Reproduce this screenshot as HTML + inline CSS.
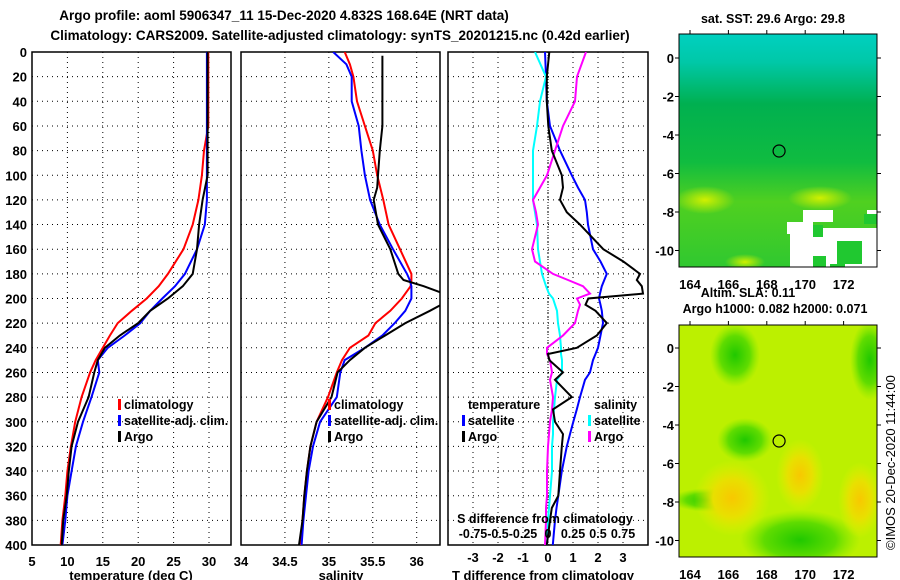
<!DOCTYPE html>
<html><head><meta charset="utf-8">
<style>
html,body{margin:0;padding:0;background:#fff;}
svg{display:block;font-family:"Liberation Sans",sans-serif;font-weight:bold;}
</style></head>
<body>
<svg id="c" width="900" height="580" viewBox="0 0 900 580" xmlns="http://www.w3.org/2000/svg">
<defs>
<linearGradient id="sstg" x1="0" y1="0" x2="0" y2="1">
<stop offset="0" stop-color="#00d0c0"/><stop offset="0.12" stop-color="#00c8a8"/>
<stop offset="0.3" stop-color="#00b050"/><stop offset="0.55" stop-color="#10bc40"/>
<stop offset="0.72" stop-color="#50d020"/><stop offset="1" stop-color="#30c830"/>
</linearGradient>
<radialGradient id="yel"><stop offset="0" stop-color="#d0f000"/><stop offset="1" stop-color="#d0f000" stop-opacity="0"/></radialGradient>
<radialGradient id="org"><stop offset="0" stop-color="#f8c800"/><stop offset="0.5" stop-color="#e8e000"/><stop offset="1" stop-color="#e0f000" stop-opacity="0"/></radialGradient>
<radialGradient id="grn"><stop offset="0" stop-color="#20c800"/><stop offset="0.6" stop-color="#60dc00"/><stop offset="1" stop-color="#80e800" stop-opacity="0"/></radialGradient>
</defs>
<g id="title" font-size="13.5" text-anchor="middle">
<text x="284" y="20">Argo profile: aoml 5906347_11 15-Dec-2020 4.832S 168.64E (NRT data)</text>
<text x="340" y="40">Climatology: CARS2009. Satellite-adjusted climatology: synTS_20201215.nc (0.42d earlier)</text>
</g>
<g id="plots"></g>
<g id="maps"></g>
<text transform="translate(895,550) rotate(-90)" font-size="13" font-weight="normal">©IMOS 20-Dec-2020 11:44:00</text>
</svg>
<script>
// ---- data ----
const depthT = [0,20,40,60,80,100,120,140,160,180,190,200,210,220,230,240,250,260,280,300,320,340,360,380,400];
const tempClim = [29.9,29.9,29.9,29.9,29.3,29.0,28.5,27.7,26.4,24.2,22.9,21.2,19.1,17.1,16.0,15.0,14.0,13.2,12.0,11.1,10.5,10.0,9.7,9.3,9.05];
const tempSat = [29.7,29.7,29.7,29.7,29.7,29.7,29.7,29.4,28.3,26.6,25.2,23.4,21.7,20.3,18.1,15.7,14.3,14.5,13.4,12.2,11.2,10.6,10.0,9.7,9.3];
const tempArgo = [29.8,29.8,29.8,29.8,29.8,29.8,29.1,28.6,28.3,27.7,26.3,24.2,21.7,20.0,17.4,15.3,14.3,13.8,13.0,11.5,10.6,10.2,9.9,9.4,9.2];
const depthS = [0,10,20,40,60,80,100,120,140,160,180,185,190,195,200,210,220,230,240,250,260,280,300,320,340,360,380,400];
const salClim = [35.18,35.24,35.28,35.32,35.41,35.50,35.55,35.62,35.68,35.81,35.94,35.94,35.93,35.88,35.83,35.70,35.53,35.45,35.24,35.15,35.09,34.99,34.86,34.79,34.75,34.72,34.70,34.68];
const salSat = [35.05,35.20,35.26,35.26,35.34,35.37,35.41,35.47,35.58,35.73,35.89,35.92,35.94,35.94,35.94,35.87,35.75,35.61,35.41,35.18,35.13,35.09,34.90,34.82,34.77,34.74,34.71,34.69];
const depthSA = [3,20,40,60,80,100,110,120,140,160,180,185,190,195,200,205,210,220,230,240,250,260,280,300,320,340,360,380,400];
const salArgo = [35.61,35.61,35.61,35.61,35.58,35.56,35.55,35.51,35.56,35.70,35.79,35.85,36.08,36.27,36.30,36.28,36.15,35.87,35.64,35.41,35.24,35.10,35.03,34.86,34.79,34.75,34.72,34.70,34.66];
const depthD = [0,20,40,60,80,100,110,120,130,140,160,170,180,185,190,196,200,205,210,220,230,240,245,250,260,266,280,290,300,310,320,340,360,370,380,400];
const dTsat = [-0.12,-0.08,-0.05,0.08,0.48,0.95,1.2,1.48,1.55,1.6,1.8,2.1,2.35,2.25,2.15,2.08,2.04,2.1,2.15,2.2,2.1,2.0,1.9,1.8,1.68,1.48,1.28,1.15,1.01,0.88,0.75,0.55,0.41,0.34,0.28,0.19];
const dTargo = [0.05,-0.05,-0.05,0.01,0.15,0.55,0.6,0.48,0.75,1.28,2.21,3.01,3.68,3.55,3.75,3.8,1.61,1.5,1.9,2.35,1.95,1.15,0.0,0.05,0.6,0.28,0.95,0.2,0.28,0.6,0.55,0.48,0.41,0.15,0.08,-0.05];
const dSsat = [-0.13,-0.02,-0.08,-0.11,-0.15,-0.15,-0.15,-0.15,-0.13,-0.11,-0.1,-0.08,-0.06,-0.04,-0.02,0.01,0.05,0.07,0.09,0.10,0.12,0.13,0.13,0.14,0.14,0.09,0.07,0.06,0.05,0.05,0.04,0.04,0.02,0.01,0.0,-0.01];
const dSargo = [0.38,0.29,0.27,0.15,0.07,-0.01,-0.08,-0.15,-0.12,-0.10,-0.16,-0.13,0.05,0.2,0.35,0.42,0.29,0.32,0.3,0.27,0.15,-0.01,-0.01,0.02,0.04,0.02,0.05,0.04,0.02,0.01,0.0,-0.01,-0.01,-0.02,-0.02,-0.03];
const depthTicks = [0,20,40,60,80,100,120,140,160,180,200,220,240,260,280,300,320,340,360,380,400];
const tTicks = [5,10,15,20,25,30];
const sTicks = [34,34.5,35,35.5,36];
const dtTicks = [-3,-2,-1,0,1,2,3];
const dsTicks = [-0.75,-0.5,-0.25,0,0.25,0.5,0.75];
const dsLabels = ["-0.75","-0.5","-0.25","0","0.25","0.5","0.75"];
const lonTicks = [164,166,168,170,172];
const latTicks = [0,-2,-4,-6,-8,-10];
const argoLon = 168.64, argoLat = -4.832;

const NS='http://www.w3.org/2000/svg';
const plots=document.getElementById('plots');
function mk(tag,attrs,parent,txt){const e=document.createElementNS(NS,tag);for(const k in attrs)e.setAttribute(k,attrs[k]);if(txt!==undefined)e.textContent=txt;(parent||plots).appendChild(e);return e;}
const yTop=52,yBot=545;
const yD=d=>yTop+(yBot-yTop)*d/400;
function xS(x0,x1,v0,v1){return v=>x0+(v-v0)*(x1-x0)/(v1-v0);}
const xT=xS(32,209,5,30), xSal=xS(241,416.7,34,36), xDT=xS(548,573,0,1), xDS=xS(548,573,0,0.25);

function panel(name,x0,x1,gridVals,xf){
  const g=mk('g',{});  
  for(const d of depthTicks){ if(d===0||d===400) continue;
    const l=mk('line',{x1:x0,x2:x1,y1:yD(d),y2:yD(d),stroke:'#000','stroke-width':1,'stroke-dasharray':'1,4'},g);
     }
  for(const v of gridVals){const x=xf(v);
    const l=mk('line',{x1:x,x2:x,y1:yTop,y2:yBot,stroke:'#000','stroke-width':1,'stroke-dasharray':'1,4'},g);
     }
  const r=mk('rect',{x:x0,y:yTop,width:x1-x0,height:yBot-yTop,fill:'none',stroke:'#000','stroke-width':1.5},g);
   
  return g;
}
function series(g,name,xs,ys,xf,color,x0,x1){
  const cid='clip'+name; const cp=mk('clipPath',{id:cid},g); mk('rect',{x:x0,y:yTop,width:x1-x0,height:yBot-yTop},cp);
  const pts=xs.map((v,i)=>xf(v).toFixed(1)+','+yD(ys[i]).toFixed(1)).join(' ');
  const p=mk('polyline',{points:pts,fill:'none',stroke:color,'stroke-width':2,'clip-path':'url(#'+cid+')'},g);
   
}
function legend(g,x,y,color,label,name){
  const b=mk('rect',{x:x,y:y-10,width:3,height:11,fill:color},g);
   
  const t=mk('text',{x:x+6,y:y,'font-size':12.5},g,label);
   
}
// panel 1
const p1=panel('temperature-panel',32,231,[10,15,20,25,30],xT);
series(p1,'temp-climatology-line',tempClim,depthT,xT,'#ff0000',32,231);
series(p1,'temp-satellite-line',tempSat,depthT,xT,'#0000ff',32,231);
series(p1,'temp-argo-line',tempArgo,depthT,xT,'#000000',32,231);
for(const d of depthTicks){const t=mk('text',{x:27,y:yD(d)+5,'font-size':13,'text-anchor':'end'},p1,String(d));
   }
for(const v of tTicks){const t=mk('text',{x:xT(v),y:566,'font-size':13,'text-anchor':'middle'},p1,String(v));
   }
{const t=mk('text',{x:131,y:580,'font-size':13,'text-anchor':'middle'},p1,'temperature (deg C)');
  }
legend(p1,118,409,'#ff0000','climatology','legend-climatology');
legend(p1,118,425,'#0000ff','satellite-adj. clim.','legend-satellite');
legend(p1,118,441,'#000000','Argo','legend-argo');
// panel 2
const p2=panel('salinity-panel',241,440,[34.5,35,35.5,36],xSal);
series(p2,'sal-climatology-line',salClim,depthS,xSal,'#ff0000',241,440);
series(p2,'sal-satellite-line',salSat,depthS,xSal,'#0000ff',241,440);
series(p2,'sal-argo-line',salArgo,depthSA,xSal,'#000000',241,440);
for(const v of sTicks){const t=mk('text',{x:xSal(v),y:566,'font-size':13,'text-anchor':'middle'},p2,String(v));
   }
{const t=mk('text',{x:341,y:580,'font-size':13,'text-anchor':'middle'},p2,'salinity');
  }
legend(p2,328,409,'#ff0000','climatology','legend-climatology');
legend(p2,328,425,'#0000ff','satellite-adj. clim.','legend-satellite');
legend(p2,328,441,'#000000','Argo','legend-argo');
// panel 3
const p3=panel('difference-panel',448,648,dtTicks,xDT);
{const l=mk('line',{x1:548,x2:548,y1:yTop,y2:yBot,stroke:'#000','stroke-width':1,'stroke-dasharray':'1,2'},p3);
  }
series(p3,'dt-satellite-line',dTsat,depthD,xDT,'#0000ff',448,648);
series(p3,'ds-satellite-line',dSsat,depthD,xDS,'#00ffff',448,648);
series(p3,'ds-argo-line',dSargo,depthD,xDS,'#ff00ff',448,648);
series(p3,'dt-argo-line',dTargo,depthD,xDT,'#000000',448,648);
for(const v of dtTicks){const t=mk('text',{x:xDT(v),y:562,'font-size':13,'text-anchor':'middle'},p3,String(v));
   }
dsTicks.forEach((v,i)=>{const t=mk('text',{x:xDS(v),y:538,'font-size':12.5,'text-anchor':'middle'},p3,dsLabels[i]);
   });
{const t=mk('text',{x:545,y:523,'font-size':12.5,'text-anchor':'middle'},p3,'S difference from climatology');
  
 const u=mk('text',{x:543,y:580,'font-size':13,'text-anchor':'middle'},p3,'T difference from climatology');
  
 const a=mk('text',{x:468,y:409,'font-size':12.5},p3,'temperature');
  
 const b=mk('text',{x:594,y:409,'font-size':12.5},p3,'salinity');
  }
legend(p3,462,425,'#0000ff','satellite','legend-t-satellite');
legend(p3,462,441,'#000000','Argo','legend-t-argo');
legend(p3,588,425,'#00ffff','satellite','legend-s-satellite');
legend(p3,588,441,'#ff00ff','Argo','legend-s-argo');

// ---- maps ----
const maps=document.getElementById('maps');
function mapFrame(name,y0,y1,lat0y,title,isSST){
  const g=mk('g',{},maps);  
  const x0=679,x1=877;
  const lonX=v=>690+(v-164)*19.2, latY=v=>lat0y-v*19.25;
  const cp=mk('clipPath',{id:'cp'+name},g); mk('rect',{x:x0,y:y0,width:x1-x0,height:y1-y0},cp);
  const f=mk('g',{'clip-path':'url(#cp'+name+')'},g);
  if(isSST){
    mk('rect',{x:x0,y:y0,width:x1-x0,height:y1-y0,fill:'url(#sstg)'},f);
    mk('ellipse',{cx:705,cy:200,rx:30,ry:14,fill:'url(#yel)'},f);
    mk('ellipse',{cx:820,cy:198,rx:32,ry:12,fill:'url(#yel)'},f);
    mk('ellipse',{cx:745,cy:262,rx:20,ry:8,fill:'url(#yel)'},f);
    const wh=[[787,222,26,12],[803,210,30,12],[790,228,87,39],[867,210,10,8]];
    for(const r of wh){const e=mk('rect',{x:r[0],y:r[1],width:r[2],height:r[3],fill:'#fff'},f);
       }
    const gr=[[813,225,10,12],[837,241,25,23],[813,256,13,11],[830,264,15,3],[864,214,13,10]];
    for(const r of gr) mk('rect',{x:r[0],y:r[1],width:r[2],height:r[3],fill:'#20c830'},f);
  } else {
    mk('rect',{x:x0,y:y0,width:x1-x0,height:y1-y0,fill:'#bcf000'},f);
    mk('ellipse',{cx:735,cy:355,rx:25,ry:32,fill:'url(#grn)'},f);
    mk('ellipse',{cx:745,cy:440,rx:28,ry:22,fill:'url(#grn)'},f);
    mk('ellipse',{cx:870,cy:360,rx:20,ry:40,fill:'url(#grn)'},f);
    mk('ellipse',{cx:800,cy:540,rx:60,ry:30,fill:'url(#grn)'},f);
    mk('ellipse',{cx:710,cy:500,rx:40,ry:12,fill:'url(#grn)'},f);
    mk('ellipse',{cx:732,cy:498,rx:38,ry:38,fill:'url(#org)'},f);
    mk('ellipse',{cx:800,cy:475,rx:24,ry:36,fill:'url(#org)'},f);
    mk('ellipse',{cx:860,cy:500,rx:22,ry:38,fill:'url(#org)'},f);
  }
  const fr=mk('rect',{x:x0,y:y0,width:x1-x0,height:y1-y0,fill:'none',stroke:'#000','stroke-width':1},g);
   
  const c=mk('circle',{cx:lonX(argoLon),cy:latY(argoLat),r:6,fill:'none',stroke:'#000','stroke-width':1.2},g);
   
  for(const v of lonTicks){
    mk('line',{x1:lonX(v),x2:lonX(v),y1:y0-4,y2:y0,stroke:'#000'},g);
    const t=mk('text',{x:lonX(v),y:y1+22,'font-size':13,'text-anchor':'middle'},g,String(v));
     }
  for(const v of latTicks){
    mk('line',{x1:x0-4,x2:x0,y1:latY(v),y2:latY(v),stroke:'#000'},g);
    mk('line',{x1:x1,x2:x1+4,y1:latY(v),y2:latY(v),stroke:'#000'},g);
    const t=mk('text',{x:674,y:latY(v)+5,'font-size':13,'text-anchor':'end'},g,String(v));
     }
  return g;
}
mapFrame('sst-map',34,267,58,'',true);
mapFrame('sla-map',325,557,348,'',false);
{let t=mk('text',{x:773,y:23,'font-size':12.5,'text-anchor':'middle'},maps,'sat. SST: 29.6 Argo: 29.8');
  
 t=mk('text',{x:748,y:297,'font-size':12.5,'text-anchor':'middle'},maps,'Altim. SLA: 0.11');
  
 t=mk('text',{x:775,y:313,'font-size':12.5,'text-anchor':'middle'},maps,'Argo h1000: 0.082 h2000: 0.071');
  }
</script>
</body></html>
